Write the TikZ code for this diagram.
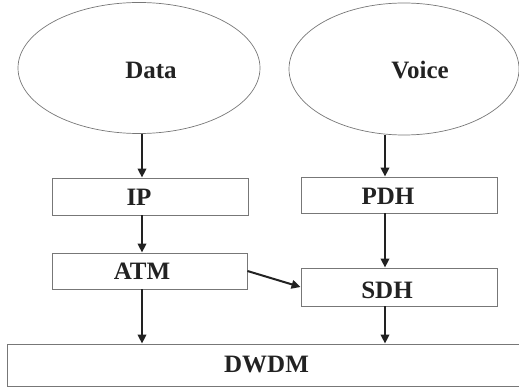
\documentclass[tikz,border=0pt]{standalone}
\usepackage{fontspec}
\setmainfont{Liberation Serif}
\usetikzlibrary{shapes.geometric,arrows.meta}
\definecolor{edgegray}{HTML}{777777}
\definecolor{arrowdark}{HTML}{222222}
\definecolor{textdark}{HTML}{222222}
\begin{document}
\begin{tikzpicture}[x=1pt,y=-1pt,
  lbl/.style={font=\fontsize{25}{29}\selectfont\bfseries, text=textdark},
  oval/.style={ellipse, draw=edgegray, line width=0.7pt, inner sep=0pt},
  layer/.style={rectangle, draw=edgegray, line width=0.9pt, inner sep=0pt},
  arr/.style={draw=arrowdark, line width=2pt, -{Triangle[length=9pt,width=8.5pt]}}]
\useasboundingbox (0,0) rectangle (519,387);
\node[oval, minimum width=242pt, minimum height=131pt,
  label={[lbl, xshift=12pt, yshift=-2pt]center:Data}] (data) at (139,68) {};
\node[oval, minimum width=230pt, minimum height=132pt,
  label={[lbl, xshift=16pt, yshift=-1pt]center:Voice}] (voice) at (404,69) {};
\node[layer, minimum width=196pt, minimum height=37pt,
  label={[lbl, xshift=-11pt, yshift=-1pt]center:IP}] (ip) at (150,196.5) {};
\node[layer, minimum width=196pt, minimum height=36pt,
  label={[lbl, xshift=-11pt, yshift=-1pt]center:PDH}] (pdh) at (399,195) {};
\node[layer, minimum width=195pt, minimum height=36pt,
  label={[lbl, xshift=-7.5pt]center:ATM}] (atm) at (149.5,271) {};
\node[layer, minimum width=196pt, minimum height=38pt,
  label={[lbl, xshift=-12pt, yshift=-3pt]center:SDH}] (sdh) at (399,287) {};
\node[layer, minimum width=520pt, minimum height=42pt,
  label={[lbl, xshift=-0.5pt]center:DWDM}] (dwdm) at (267,365) {};
\draw[arr] ([xshift=3pt]data.south) -- ([xshift=-8pt]ip.north);
\draw[arr] ([xshift=-8pt]ip.south) -- ([xshift=-7.5pt]atm.north);
\draw[arr] ([xshift=-7.5pt]atm.south) -- ([xshift=-7.5pt]atm.south |- dwdm.north);
\draw[arr] ([xshift=-19pt]voice.south) -- ([xshift=-14pt]pdh.north);
\draw[arr] ([xshift=-14pt]pdh.south) -- ([xshift=-14pt]sdh.north);
\draw[arr] ([xshift=-14pt]sdh.south) -- ([xshift=-14pt]sdh.south |- dwdm.north);
\draw[arr] (atm.east) -- (sdh.west);
\end{tikzpicture}
\end{document}
